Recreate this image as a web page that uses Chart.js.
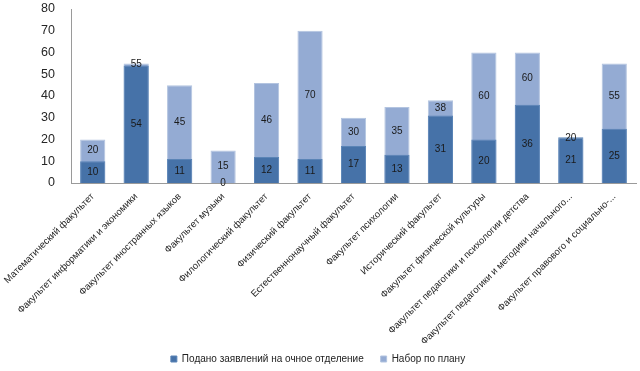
<!DOCTYPE html>
<html>
<head>
<meta charset="utf-8">
<script src="https://cdn.jsdelivr.net/npm/chart.js@4"></script>
<style>
  html, body { margin: 0; padding: 0; background: #fff; }
  #wrap { width: 640px; height: 371px; }
</style>
</head>
<body>
<div id="wrap"><canvas id="myChart"></canvas></div>
<script>
const faculties = [
    'Математический факультет',
    'Факультет информатики и экономики',
    'Факультет иностранных языков',
    'Факультет музыки',
    'Филологический факультет',
    'Физический факультет',
    'Естественнонаучный факультет',
    'Факультет психологии',
    'Исторический факультет',
    'Факультет физической культуры',
    'Факультет педагогики и психологии детства',
    'Факультет педагогики и методики начального...',
    'Факультет правового и социально-...'
];
const applied = [10, 54, 11, 0, 12, 11, 17, 13, 31, 20, 36, 21, 25];
const plan = [20, 55, 45, 15, 46, 70, 30, 35, 38, 60, 60, 20, 55];
const yTicks = [0, 10, 20, 30, 40, 50, 60, 70, 80];

const darkBlue = '#4672a8';
const lightBlue = '#94abd3';

// values written in the middle of each visible part of the bars
const barLabels = {
    id: 'barLabels',
    afterDatasetsDraw(chart) {
        const ctx = chart.ctx;
        const dark = chart.getDatasetMeta(0).data;
        const light = chart.getDatasetMeta(1).data;
        ctx.save();
        ctx.font = '10px "Liberation Sans", Arial, sans-serif';
        ctx.fillStyle = '#1a1a1a';
        ctx.textAlign = 'center';
        ctx.textBaseline = 'middle';
        dark.forEach((bar, i) => {
            ctx.fillText(applied[i], bar.x, (bar.y + bar.base) / 2);
            ctx.fillText(plan[i], light[i].x, (bar.y + light[i].y) / 2);
        });
        ctx.restore();
    }
};

const data = {
    labels: faculties,
    datasets: [{
            label: 'Подано заявлений на очное отделение',
            backgroundColor: darkBlue,
            borderColor: '#5a84b6',
            borderWidth: 1,
            data: applied
        },
        {
            label: 'Набор по плану',
            backgroundColor: lightBlue,
            borderColor: '#b3c4e0',
            borderWidth: 1,
            data: plan
        }
    ]
};

const config = {
    type: 'bar',
    data,
    plugins: [barLabels],
    options: {
        responsive: true,
        maintainAspectRatio: false,
        animation: false,
        layout: { padding: { left: 0, right: 4, top: 9, bottom: -3 } },
        datasets: {
            bar: { categoryPercentage: 1, barPercentage: 0.58, grouped: false }
        },
        scales: {
            x: {
                afterFit: (axis) => { axis.height = 168; axis.paddingTop = 0; },
                grid: { display: false },
                border: { display: true, color: '#9a9a9a' },
                ticks: {
                    minRotation: 45,
                    maxRotation: 45,
                    autoSkip: false,
                    color: '#262626',
                    padding: 0,
                    font: { family: '"Liberation Sans", Arial, sans-serif', size: 9.6 }
                }
            },
            y: {
                min: 0,
                max: 80,
                afterBuildTicks: (axis) => { axis.ticks = yTicks.map((v) => ({ value: v })); },
                afterFit: (axis) => { axis.width = 71; axis.paddingTop = 0; },
                grid: { display: false },
                border: { display: true, color: '#9a9a9a' },
                ticks: {
                    color: '#262626',
                    padding: 8,
                    font: { family: '"Liberation Sans", Arial, sans-serif', size: 12.5 }
                }
            }
        },
        plugins: {
            legend: {
                position: 'bottom',
                labels: {
                    boxWidth: 6,
                    boxHeight: 6,
                    padding: 3,
                    color: '#222',
                    font: { family: '"Liberation Sans", Arial, sans-serif', size: 10 },
                    // wider gap between the two legend entries
                    generateLabels: (chart) => Chart.defaults.plugins.legend.labels.generateLabels(chart)
                        .map((item, i) => ({ ...item, text: i === 0 ? item.text + '     ' : item.text }))
                }
            },
            tooltip: { enabled: false }
        }
    }
};

let myChart = new Chart(document.getElementById('myChart'), config);
</script>
</body>
</html>
